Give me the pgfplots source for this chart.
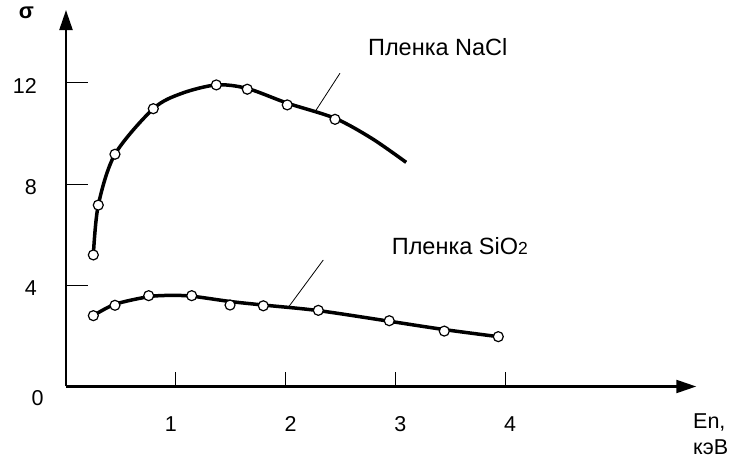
\documentclass[border=0pt]{standalone}
\usepackage{fontspec}
\setmainfont{Liberation Sans}
\usepackage{pgfplots}
\pgfplotsset{compat=1.18}
\usetikzlibrary{arrows.meta}

\newcommand{\lbl}{\fontsize{21.5}{23}\selectfont}
\newcommand{\filmlbl}{\fontsize{23.5}{25}\selectfont}

\begin{document}
\begin{tikzpicture}
\useasboundingbox (0,0) rectangle (732pt,461pt);
\begin{axis}[
  at={(66pt,74.5pt)}, anchor=south west,
  x=109.8pt, y=25.3pt,
  xmin=0, xmax=5.74, ymin=0, ymax=14.88,
  axis lines=left,
  axis line style={line width=2.2pt, -{Triangle[length=20pt,width=13pt]}},
  clip=false,
  xtick={1,2,3,4},
  xticklabels={\makebox[0pt]{\hspace*{-20pt}1},2,3,4},
  ytick={4,8,12},
  tick align=inside,
  major tick length=20pt,
  xtick style={line width=1pt, black, /pgfplots/major tick length=14pt},
  ytick style={line width=1pt, black, /pgfplots/major tick length=22pt},
  tick label style={font=\lbl},
  xticklabel style={anchor=north, inner sep=0pt, yshift=-30pt, xshift=5pt},
  yticklabel style={anchor=east, inner sep=0pt, xshift=-29pt, yshift=-3pt},
  /pgf/number format/assume math mode=true,
]
% NaCl film
\addplot[line width=3.5pt, smooth] coordinates {
  (0.249,5.20) (0.294,7.17) (0.446,9.18) (0.795,10.98) (1.05,11.58) (1.369,11.92)
  (1.651,11.78) (2.015,11.2) (2.45,10.6) (2.787,9.8) (3.098,8.86)};
\addplot[only marks, mark=*, mark size=5pt, mark options={fill=white, draw=black, line width=1.2pt}] coordinates {
  (0.249,5.20) (0.294,7.17) (0.446,9.18) (0.795,10.98) (1.369,11.92)
  (1.651,11.75) (2.015,11.13) (2.45,10.56)};
% SiO2 film
\addplot[line width=3.5pt, smooth] coordinates {
  (0.249,2.80) (0.446,3.25) (0.753,3.55) (0.95,3.6) (1.145,3.57) (1.494,3.36)
  (1.797,3.22) (2.298,3.0) (2.944,2.58) (3.445,2.25) (3.937,1.97)};
\addplot[only marks, mark=*, mark size=5pt, mark options={fill=white, draw=black, line width=1.2pt}] coordinates {
  (0.249,2.80) (0.446,3.21) (0.753,3.59) (1.145,3.59) (1.494,3.22)
  (1.797,3.19) (2.298,3.01) (2.944,2.60) (3.445,2.19) (3.937,1.97)};
% leader lines and labels
\draw[line width=0.8pt] (axis cs:2.495,12.38) -- (axis cs:2.277,10.92);
\draw[line width=0.8pt] (axis cs:2.343,5.0) -- (axis cs:2.025,3.13);
\node[anchor=west, inner sep=0pt, font=\filmlbl] at (axis cs:2.75,13.4) {Пленка NaCl};
\node[anchor=west, inner sep=0pt, font=\filmlbl] at (axis cs:2.966,5.53) {Пленка SiO{\fontsize{17.5}{17.5}\selectfont 2}};
\end{axis}
\node[inner sep=0pt, font=\lbl] at (37.5pt,62.7pt) {0};
\node[inner sep=0pt, font=\bfseries\fontsize{22}{23}\selectfont] at (26.5pt,448pt) {σ};
\node[anchor=west, inner sep=0pt, font=\lbl] at (693pt,39pt) {En,};
\node[anchor=west, inner sep=0pt, font=\lbl] at (693pt,14pt) {кэВ};
\end{tikzpicture}
\end{document}
